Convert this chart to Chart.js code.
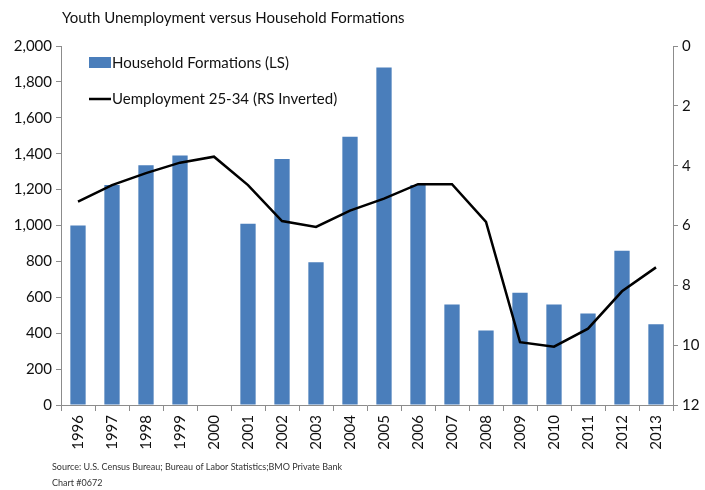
<!DOCTYPE html>
<html>
<head>
<meta charset="utf-8">
<script src="https://cdn.jsdelivr.net/npm/chart.js@4.4.0/dist/chart.umd.min.js"></script>
<style>
  body { margin: 0; background: #fff; }
  canvas { display: block; }
</style>
</head>
<body>
<canvas id="myChart" width="705" height="490"></canvas>
<script>
// data
var years = ['1996','1997','1998','1999','2000','2001','2002','2003','2004',
             '2005','2006','2007','2008','2009','2010','2011','2012','2013'];
var household_formations = [1000, 1225, 1335, 1390, 0, 1010, 1370, 795, 1495,
                            1880, 1225, 560, 415, 625, 560, 510, 860, 450];
var unemployment_25_34 = [5.2, 4.65, 4.25, 3.9, 3.7, 4.65, 5.85, 6.05, 5.5,
                          5.1, 4.62, 4.62, 5.88, 9.9, 10.05, 9.45, 8.2, 7.4];

var font_family = 'Lato, "Open Sans", sans-serif';
var axis_color = '#8c8c8c';

// title, legend and source notes drawn straight on the canvas
var extras = {
  id: 'extras',
  afterDraw: function(chart) {
    var ctx = chart.ctx;
    ctx.save();
    ctx.fillStyle = '#111';
    ctx.textBaseline = 'middle';
    ctx.font = '15px ' + font_family;
    ctx.fillText('Youth Unemployment versus Household Formations', 62, 18);

    // legend
    ctx.font = '15px ' + font_family;
    ctx.fillStyle = '#4a7ebb';
    ctx.fillRect(89, 57, 22, 11);
    ctx.fillStyle = '#111';
    ctx.fillText('Household Formations (LS)', 112, 63);
    ctx.strokeStyle = '#000';
    ctx.lineWidth = 2.5;
    ctx.beginPath();
    ctx.moveTo(89, 99);
    ctx.lineTo(111, 99);
    ctx.stroke();
    ctx.fillText('Uemployment 25-34 (RS Inverted)', 112, 99);

    // source
    ctx.font = '9px ' + font_family;
    ctx.fillStyle = '#333';
    ctx.fillText('Source: U.S. Census Bureau; Bureau of Labor Statistics;BMO Private Bank', 52, 467);
    ctx.fillText('Chart #0672', 52, 483);
    ctx.restore();
  }
};

var ctx = document.getElementById('myChart');
var myChart = new Chart(ctx, {
  type: 'bar',
  data: {
    labels: years,
    datasets: [{
      type: 'line',
      label: 'Uemployment 25-34 (RS Inverted)',
      data: unemployment_25_34,
      yAxisID: 'y1',
      borderColor: '#000',
      borderWidth: 2.5,
      pointRadius: 0,
      tension: 0,
      order: 0
    }, {
      type: 'bar',
      label: 'Household Formations (LS)',
      data: household_formations,
      yAxisID: 'y',
      backgroundColor: '#4a7ebb',
      barPercentage: 0.45,
      categoryPercentage: 1.0,
      order: 1
    }]
  },
  options: {
    responsive: false,
    animation: false,
    layout: {padding: {top: 46, left: 0, right: 0, bottom: 0}},
    plugins: {
      legend: {display: false},
      title: {display: false},
      tooltip: {enabled: false}
    },
    scales: {
      x: {
        offset: true,
        grid: {offset: true, drawOnChartArea: false, tickLength: 6, color: axis_color},
        border: {color: axis_color},
        ticks: {
          minRotation: 90, maxRotation: 90, color: '#111', padding: 4,
          font: {family: font_family, size: 15}
        },
        afterFit: function(scale) { scale.height = 85; }
      },
      y: {
        position: 'left',
        min: 0, max: 2000,
        grid: {drawOnChartArea: false, tickLength: 5, color: axis_color},
        border: {color: axis_color},
        ticks: {
          stepSize: 200, color: '#111', padding: 4,
          font: {family: font_family, size: 15},
          callback: function(v) { return v.toLocaleString('en-US'); }
        },
        afterFit: function(scale) { scale.width = 61; }
      },
      y1: {
        position: 'right',
        reverse: true,
        min: 0, max: 12,
        grid: {drawOnChartArea: false, tickLength: 5, color: axis_color},
        border: {color: axis_color},
        ticks: {
          stepSize: 2, color: '#111', padding: 4,
          font: {family: font_family, size: 15}
        },
        afterFit: function(scale) { scale.width = 32; }
      }
    }
  },
  plugins: [extras]
});
</script>
</body>
</html>
